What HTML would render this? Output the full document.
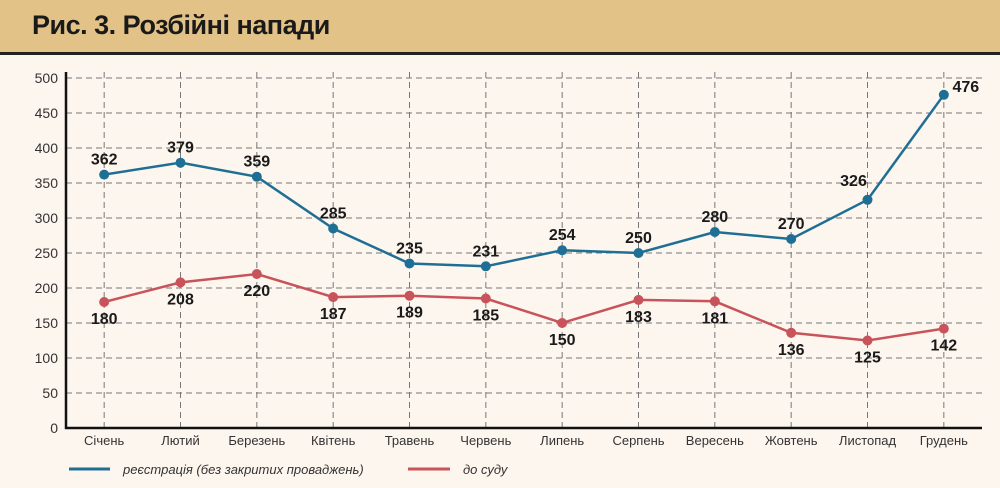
<!DOCTYPE html>
<html><head><meta charset="utf-8"><style>
body{margin:0;width:1000px;height:488px;background:#fdf6ef;font-family:"Liberation Sans",sans-serif;overflow:hidden}
#hdr{position:absolute;left:0;top:0;width:1000px;height:52px;background:#e3c287;border-bottom:3px solid #222}
#hdr span{position:absolute;left:32px;top:10px;font-size:27px;font-weight:bold;color:#1a1a1a;letter-spacing:-0.5px}
svg{position:absolute;left:0;top:0}
</style></head><body>
<div id="hdr"><span>Рис. 3. Розбійні напади</span></div>
<svg id="c" width="1000" height="488"></svg>
<script>
const months=["Січень","Лютий","Березень","Квітень","Травень","Червень","Липень","Серпень","Вересень","Жовтень","Листопад","Грудень"];
const regValues=[362,379,359,285,235,231,254,250,280,270,326,476];
const courtValues=[180,208,220,187,189,185,150,183,181,136,125,142];
const yTicks=[0,50,100,150,200,250,300,350,400,450,500];
const NS="http://www.w3.org/2000/svg";
const svg=document.getElementById('c');
const L=66,R=982,T=78,B=428,yMax=500;
const xs=i=>L+(i+0.5)*(R-L)/months.length;
const ys=v=>B-v/yMax*(B-T);
function mk(t,a,p){const e=document.createElementNS(NS,t);for(const k in a)e.setAttribute(k,a[k]);(p||svg).appendChild(e);return e;}
const grid=mk('g',{});


yTicks.forEach(v=>{if(v>0)mk('line',{x1:L,x2:R,y1:ys(v),y2:ys(v),stroke:'#777','stroke-dasharray':'6 4','stroke-width':1},grid);
const t=mk('text',{x:L-8,y:ys(v)+5,'text-anchor':'end','font-size':14,fill:'#333'});t.textContent=v;
});
months.forEach((m,i)=>{mk('line',{x1:xs(i),x2:xs(i),y1:T-6,y2:B,stroke:'#777','stroke-dasharray':'6 4','stroke-width':1},grid);
const t=mk('text',{x:xs(i),y:B+17,'text-anchor':'middle','font-size':13,fill:'#333'});t.textContent=m;
});
const ax=mk('path',{d:`M${L} ${T-6}V${B}H${R}`,stroke:'#111','stroke-width':2.5,fill:'none'});

function series(vals,color,name,above){
 const g=mk('g',{});
 mk('polyline',{points:vals.map((v,i)=>xs(i)+','+ys(v)).join(' '),fill:'none',stroke:color,'stroke-width':2.5},g);
 vals.forEach((v,i)=>{const c=mk('circle',{cx:xs(i),cy:ys(v),r:5,fill:color},g);
 
 const last=i===vals.length-1&&above;
 const pen=i===vals.length-2&&above;
 let x=xs(i),y=above?ys(v)-10:ys(v)+22;
 if(last){x+=22;y=ys(v)-3;}
 if(pen){x-=14;y=ys(v)-14;}
 const t=mk('text',{x:x,y:y,'text-anchor':'middle','font-size':16,'font-weight':'bold',fill:'#1a1a1a'},g);
 t.textContent=v;});
}
series(regValues,'#1f6f95','registration-series',true);
series(courtValues,'#c9535a','court-series',false);
const lg=mk('g',{});
mk('line',{x1:69,x2:110,y1:469,y2:469,stroke:'#1f6f95','stroke-width':3},lg);
let t=mk('text',{x:123,y:474,'font-size':13,'font-style':'italic',fill:'#333'},lg);t.textContent='реєстрація (без закритих проваджень)';

mk('line',{x1:408,x2:450,y1:469,y2:469,stroke:'#c9535a','stroke-width':3},lg);
t=mk('text',{x:463,y:474,'font-size':13,'font-style':'italic',fill:'#333'},lg);t.textContent='до суду';

</script>
</body></html>
